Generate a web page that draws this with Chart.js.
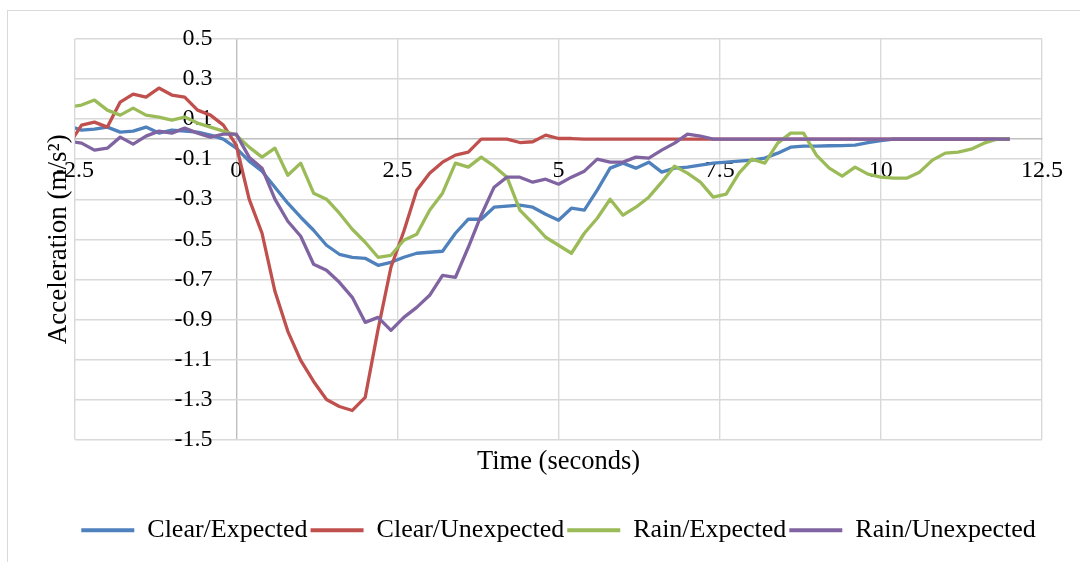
<!DOCTYPE html>
<html><head><meta charset="utf-8">
<script src="https://cdn.jsdelivr.net/npm/chart.js@4/dist/chart.umd.min.js"></script>
<style>
html,body{margin:0;padding:0;background:#fff;overflow:hidden;width:1080px;height:562px}
#frame{position:absolute;left:7px;top:10px;width:1200px;height:700px;border:1px solid #d9d9d9;box-sizing:border-box}
#wrap{position:absolute;left:0;top:0;width:1080px;height:562px}
</style></head>
<body>
<div id="frame"></div>
<div id="wrap"><canvas id="c" width="1080" height="562"></canvas></div>
<script>
const time = [
  -2.6,-2.4,-2.2,-2.0,-1.8,-1.6,-1.4,-1.2,-1.0,-0.8,-0.6,-0.4,-0.2,
  0,0.2,0.4,0.6,0.8,1.0,1.2,1.4,1.6,1.8,
  2.0,2.2,2.4,2.6,2.8,3.0,3.2,3.4,3.6,3.8,
  4.0,4.2,4.4,4.6,4.8,5.0,5.2,5.4,5.6,5.8,
  6.0,6.2,6.4,6.6,6.8,7.0,7.2,7.4,7.6,7.8,
  8.0,8.2,8.4,8.6,8.8,9.0,9.2,9.4,9.6,9.8,
  10.0,10.2,10.4,10.6,10.8,11.0,11.2,11.4,11.6,11.8,
  12.0
];
const clearExpected = [
  0.065,0.045,0.05,0.06,0.035,0.04,0.06,0.03,0.045,0.04,0.035,0.02,0.0,
  -0.045,-0.11,-0.16,-0.24,-0.32,-0.39,-0.455,-0.53,-0.575,-0.59,
  -0.595,-0.63,-0.615,-0.59,-0.57,-0.565,-0.56,-0.47,-0.40,-0.40,
  -0.34,-0.335,-0.33,-0.34,-0.375,-0.405,-0.345,-0.355,-0.255,-0.145,
  -0.12,-0.145,-0.115,-0.165,-0.145,-0.14,-0.13,-0.12,-0.115,-0.11,
  -0.105,-0.095,-0.07,-0.04,-0.035,-0.035,-0.033,-0.032,-0.03,-0.018,
  -0.008,0,0,0,0,0,0,0,0,0,
  0
];
const clearUnexpected = [
  -0.03,0.07,0.085,0.06,0.185,0.225,0.21,0.255,0.22,0.21,0.145,0.12,0.07,
  -0.03,-0.30,-0.47,-0.76,-0.96,-1.105,-1.21,-1.30,-1.335,-1.355,
  -1.29,-0.95,-0.64,-0.46,-0.255,-0.17,-0.115,-0.08,-0.065,0,
  0,0,-0.017,-0.013,0.02,0.003,0.003,0,0,0,
  0,0,0,0,0,0,0,0,0,0,
  0,0,0,0,0,0,0,0,0,0,
  0,0,0,0,0,0,0,0,0,0,
  0
];
const rainExpected = [
  0.16,0.17,0.195,0.145,0.12,0.155,0.12,0.11,0.095,0.11,0.08,0.06,0.04,
  0.02,-0.04,-0.09,-0.045,-0.18,-0.12,-0.27,-0.30,-0.37,-0.45,
  -0.515,-0.59,-0.58,-0.505,-0.475,-0.355,-0.27,-0.12,-0.14,-0.09,
  -0.135,-0.19,-0.355,-0.42,-0.49,-0.53,-0.57,-0.47,-0.395,-0.30,
  -0.38,-0.34,-0.29,-0.215,-0.135,-0.17,-0.215,-0.29,-0.275,-0.17,
  -0.10,-0.12,-0.02,0.03,0.03,-0.08,-0.145,-0.185,-0.14,-0.175,
  -0.19,-0.195,-0.195,-0.165,-0.105,-0.07,-0.065,-0.05,-0.02,0,
  0
];
const rainUnexpected = [
  -0.01,-0.02,-0.055,-0.045,0.01,-0.025,0.015,0.04,0.03,0.055,0.03,0.01,0.025,
  0.025,-0.09,-0.145,-0.30,-0.41,-0.485,-0.625,-0.655,-0.715,-0.79,
  -0.915,-0.89,-0.955,-0.89,-0.84,-0.78,-0.68,-0.69,-0.54,-0.38,
  -0.24,-0.19,-0.19,-0.215,-0.20,-0.225,-0.19,-0.16,-0.10,-0.115,
  -0.115,-0.09,-0.095,-0.055,-0.02,0.025,0.015,0,0,0,
  0,0,0,0,0,0,0,0,0,0,
  0,0,0,0,0,0,0,0,0,0,
  0
];
const seriesNames = ['Clear/Expected','Clear/Unexpected','Rain/Expected','Rain/Unexpected'];
const seriesColors = ['#4F81BD','#C0504D','#9BBB59','#8064A2'];
const xTitle = 'Time (seconds)';
const yTitle = 'Acceleration (m/s\u00B2)';

const FONT = "'Liberation Serif','Times New Roman',serif";
const Y_LABELS_AT = -0.37;
const LINE_W = 3.3;
const LEGEND_LINE_W = 4;

function mk(i, vals) {
  return {
    label: seriesNames[i],
    data: time.map((t, k) => ({x: t, y: vals[k]})),
    borderColor: seriesColors[i],
    backgroundColor: seriesColors[i],
    borderWidth: LINE_W,
    pointRadius: 0,
    pointHoverRadius: 0,
    pointBorderWidth: LINE_W,
    pointBorderColor: seriesColors[i],
    tension: 0,
    borderJoinStyle: 'round',
    order: 4 - i
  };
}

const baseLabels = Chart.defaults.plugins.legend.labels.generateLabels;

new Chart(document.getElementById('c'), {
  type: 'line',
  data: {datasets: [mk(0, clearExpected), mk(1, clearUnexpected), mk(2, rainExpected), mk(3, rainUnexpected)]},
  options: {
    responsive: false,
    animation: false,
    devicePixelRatio: 1,
    layout: {padding: {left: 0, right: 38, top: 39, bottom: 8.75}},
    plugins: {
      legend: {
        position: 'bottom', fullSize: false, reverse: true,
        labels: {usePointStyle: true, pointStyle: 'line', pointStyleWidth: 53, padding: 3,
                 color: '#000', font: {family: FONT, size: 26},
                 generateLabels: chart => baseLabels(chart).map(it => Object.assign(it, {
                   lineWidth: LEGEND_LINE_W,
                   strokeStyle: seriesColors[it.datasetIndex],
                   lineCap: 'butt'
                 }))}
      },
      tooltip: {enabled: false}
    },
    scales: {
      x: {
        type: 'linear', position: {y: 0}, min: -2.5, max: 12.5,
        ticks: {stepSize: 2.5, color: '#000', font: {family: FONT, size: 24}, padding: 17,
                maxRotation: 0, autoSkip: false,
                callback: v => String(Number(v.toFixed(2)))},
        grid: {color: c => (c.tick && c.tick.value === 0) ? '#BFBFBF' : '#D9D9D9', lineWidth: 1.4, drawTicks: false},
        border: {display: true, color: '#BFBFBF', width: 1.4},
        afterFit: s => { s.height = 0; }
      },
      y: {
        type: 'linear', position: {x: Y_LABELS_AT}, min: -1.5, max: 0.5,
        ticks: {stepSize: 0.2, color: '#000', font: {family: FONT, size: 24}, padding: 0,
                autoSkip: false, callback: v => v.toFixed(1)},
        grid: {color: '#D9D9D9', lineWidth: 1.4, drawTicks: false},
        border: {display: false},
        afterFit: s => { s.width = 0; }
      },
      xt: {
        type: 'linear', axis: 'x', position: 'bottom', min: -2.5, max: 12.5,
        ticks: {display: false}, grid: {display: false, drawTicks: false}, border: {display: false},
        title: {display: true, text: xTitle, color: '#000', font: {family: FONT, size: 26.5},
                padding: {top: 7.1, bottom: 35.85}}
      },
      yt: {
        type: 'linear', axis: 'y', position: 'left', min: -1.5, max: 0.5,
        ticks: {display: false}, grid: {display: false, drawTicks: false}, border: {display: false},
        title: {display: true, text: yTitle, color: '#000', font: {family: FONT, size: 27},
                padding: {top: 42.6, bottom: 0.1}}
      }
    }
  }
});
</script>
</body></html>
